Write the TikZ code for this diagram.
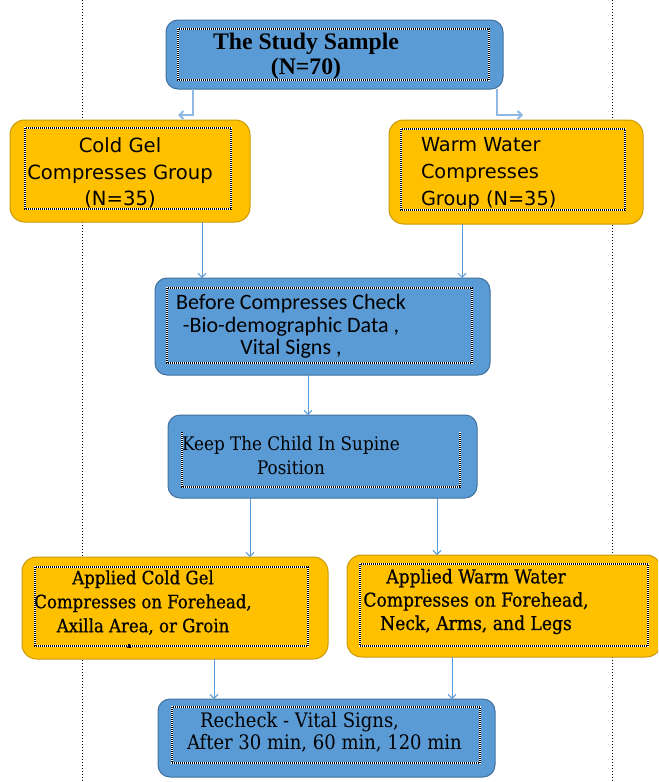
\documentclass[tikz,border=0pt]{standalone}
\usepackage{fontspec}
\usetikzlibrary{arrows.meta,calc}
\newfontfamily\ftitle{Liberation Serif}
\newfontfamily\fgrp{DejaVu Sans}
\newfontfamily\fbef{Carlito}
\newfontfamily\fslab{DejaVu Serif Condensed}
\newfontfamily\fslabb{DejaVu Serif Condensed}[FakeBold=0.6]
\definecolor{boxblue}{HTML}{5B9BD5}
\definecolor{boxblueline}{HTML}{41719C}
\definecolor{boxgold}{HTML}{FFC000}
\definecolor{boxgoldline}{HTML}{C99A06}
\definecolor{arrblue}{HTML}{5B9BD5}
\definecolor{hookblue}{HTML}{8FB8E3}
\begin{document}
\begin{tikzpicture}[x=0.75pt,y=-0.75pt,
  bluebox/.style={draw=boxblueline, fill=boxblue, line width=0.75pt, rounded corners=9pt, inner sep=0pt, outer sep=0pt},
  goldbox/.style={draw=boxgoldline, fill=boxgold, line width=0.75pt, rounded corners=11pt, inner sep=0pt, outer sep=0pt},
  innerw/.style={draw=white, line width=0.8pt},
  innerd/.style={draw=black, line width=0.8pt, dash pattern=on 0.75pt off 0.75pt},
  guide/.style={draw=black, line width=0.75pt, dash pattern=on 0.75pt off 1.5pt},
  txt/.style={inner sep=0pt, outer sep=0pt, align=center, text=black},
  arr/.style={draw=arrblue, line width=0.75pt, -{Straight Barb[length=3pt,width=6pt]}},
  hookarr/.style={draw=hookblue, line width=1.5pt, -{Straight Barb[length=3pt,width=6pt]}}]
\useasboundingbox (0,0) rectangle (658,782);
\clip (0,0) rectangle (658,782);
\fill[white] (0,0) rectangle (658,782);
% vertical guide lines
\draw[guide] (82,0) -- (82,782);
\draw[guide] (612,0) -- (612,782);
% boxes
\node[bluebox, minimum width=337*0.75pt, minimum height=69*0.75pt] (top) at (334.5,54.5) {};
\node[goldbox, minimum width=240*0.75pt, minimum height=102*0.75pt] (cold) at (130,171) {};
\node[goldbox, minimum width=254*0.75pt, minimum height=104*0.75pt] (warm) at (516,172) {};
\node[bluebox, minimum width=335*0.75pt, minimum height=97*0.75pt] (before) at (322.5,326.5) {};
\node[bluebox, minimum width=309*0.75pt, minimum height=83*0.75pt] (keep) at (322.5,456.5) {};
\node[goldbox, minimum width=306*0.75pt, minimum height=102*0.75pt] (acold) at (175,608) {};
\node[goldbox, minimum width=314*0.75pt, minimum height=102*0.75pt] (awarm) at (504,606) {};
\node[bluebox, minimum width=337*0.75pt, minimum height=78*0.75pt] (recheck) at (326.5,738) {};
% inner dotted text frames
\foreach \a/\b/\c/\d in {178/29/489/80, 25/128/231/209, 401/129/625/210, 167/288/472/363, 35/567/308/646, 360/564/648/646, 172/707/480/763}{
  \draw[innerw] (\a,\b) rectangle (\c,\d);
  \draw[innerd] (\a,\b) rectangle (\c,\d);
}
\draw[innerw] (182,432) -- (182,487) -- (460,487) -- (460,432);
\draw[innerd] (182,432) -- (182,487) -- (460,487) -- (460,432);
% texts
\node[txt, font={\ftitle\bfseries\fontsize{17.8pt}{18.75pt}\selectfont}] (ttop) at (306,56.5) {The Study Sample\\(N=70)};
\node[txt, font={\fgrp\fontsize{14.7pt}{19.75pt}\selectfont}] (tcold) at (120,173) {Cold Gel\\Compresses Group\\(N=35)};
\node[txt, anchor=west, align=left, font={\fgrp\fontsize{14.5pt}{20.5pt}\selectfont}] (twarm) at (421,173.5) {Warm Water\\Compresses\\Group (N=35)};
\node[txt, font={\fbef\fontsize{16.5pt}{17pt}\selectfont}] (tbefore) at (291,326.5) {Before Compresses Check\\-Bio-demographic Data ,\\Vital Signs ,};
\node[txt, font={\fslab\fontsize{14pt}{18pt}\selectfont}] (tkeep) at (291,456) {Keep The Child In Supine\\Position};
\node[txt, font={\fslabb\fontsize{13.8pt}{18pt}\selectfont}] (tacold) at (143,602.5) {Applied Cold Gel\\Compresses on Forehead,\\Axilla Area, or Groin};
\begin{scope}
\clip (35,560) rectangle (308,647);
\node[txt, font={\fslabb\fontsize{13.8pt}{18pt}\selectfont}] (tarea) at (143,651) {Area};
\end{scope}
\node[txt, font={\fslabb\fontsize{14.3pt}{17.5pt}\selectfont}] (tawarm) at (476,601.5) {Applied Warm Water\\Compresses on Forehead,\\Neck, Arms, and Legs};
\node[txt, anchor=west, align=left, font={\fslab\fontsize{15pt}{16.5pt}\selectfont}] (trecheck) at (187,732.5) {\hspace*{9.75pt}Recheck - Vital Signs,\\After 30 min, 60 min, 120 min};
% connectors
\draw[hookarr] ($(top.south west)+(27,0)$) -- ++(0,26) -- ++(-15,0) coordinate (hl);
\draw[hookarr] ($(top.south east)+(-6,0)$) -- ++(0,26) -- ++(26,0) coordinate (hr);
\draw[arr] ($(cold.south west)+(192,0)$) coordinate (c1) -- (c1 |- before.north);
\draw[arr] ($(warm.south west)+(73,0)$) coordinate (c2) -- (c2 |- before.north);
\draw[arr] ($(before.south west)+(153,0)$) coordinate (c3) -- (c3 |- keep.north);
\draw[arr] ($(keep.south west)+(82,0)$) coordinate (c4) -- (c4 |- acold.north);
\draw[arr] ($(keep.south west)+(269,0)$) coordinate (c5) -- (c5 |- awarm.north);
\draw[arr] ($(acold.south west)+(192,0)$) coordinate (c6) -- (c6 |- recheck.north);
\draw[arr] ($(awarm.south west)+(105,0)$) coordinate (c7) -- (c7 |- recheck.north);
\end{tikzpicture}
\end{document}
